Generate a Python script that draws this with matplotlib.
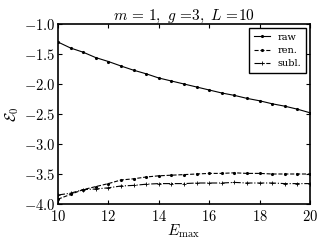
import numpy as np
import matplotlib
matplotlib.use('Agg')
import matplotlib.pyplot as plt

plt.rcParams['mathtext.fontset'] = 'cm'
plt.rcParams['font.family'] = 'serif'
plt.rcParams['font.serif'] = ['DejaVu Serif']
plt.rcParams['axes.formatter.use_mathtext'] = True

# E_max grid
e_max = [10, 10.5, 11, 11.5, 12, 12.5, 13, 13.5, 14, 14.5, 15,
         15.5, 16, 16.5, 17, 17.5, 18, 18.5, 19, 19.5, 20]

raw = [-1.30, -1.40, -1.47, -1.56, -1.625, -1.70, -1.77, -1.83, -1.90, -1.95, -2.00,
       -2.05, -2.10, -2.15, -2.19, -2.24, -2.28, -2.33, -2.37, -2.42, -2.48]
ren = [-3.92, -3.84, -3.76, -3.71, -3.66, -3.60, -3.58, -3.55, -3.53, -3.52, -3.51,
       -3.50, -3.49, -3.49, -3.48, -3.49, -3.49, -3.50, -3.50, -3.50, -3.50]
subl = [-3.85, -3.82, -3.76, -3.75, -3.73, -3.70, -3.69, -3.67, -3.66, -3.66, -3.66,
        -3.65, -3.65, -3.65, -3.64, -3.65, -3.65, -3.65, -3.66, -3.66, -3.66]

fig = plt.figure(figsize=(3.2, 2.4), dpi=100)
ax = fig.add_axes([0.181, 0.15, 0.788, 0.75])

ax.plot(e_max, raw, '-', color='k', lw=0.8, marker='.', ms=2.5, label='raw')
ax.plot(e_max, ren, '--', color='k', lw=0.8, marker='.', ms=2.5, label='ren.')
ax.plot(e_max, subl, '-.', color='k', lw=0.8, marker='+', ms=3, mew=0.6, label='subl.')

ax.set_xlim(10, 20)
ax.set_ylim(-4.0, -1.0)
ax.set_xticks([10, 12, 14, 16, 18, 20])
ax.set_yticks([-4.0, -3.5, -3.0, -2.5, -2.0, -1.5, -1.0])
ax.set_yticklabels(['$-4.0$', '$-3.5$', '$-3.0$', '$-2.5$', '$-2.0$', '$-1.5$', '$-1.0$'])
ax.set_xticklabels(['$10$', '$12$', '$14$', '$16$', '$18$', '$20$'])
ax.tick_params(direction='in', top=True, right=True, labelsize=10.5, length=3, width=0.8)
ax.tick_params(axis='y', pad=2)
ax.tick_params(axis='x', pad=3.5)
for s in ax.spines.values():
    s.set_linewidth(1.2)

ax.set_xlabel(r'$E_{\rm max}$', fontsize=11, labelpad=-1)
ax.set_ylabel(r'$\mathcal{E}_0$', fontsize=11, labelpad=2)
ax.set_title(r'$m\,=\,1,\ g\,=\!3,\ L\,=\!10$', fontsize=11, pad=3)

leg = ax.legend(loc='upper right', fontsize=7, fancybox=False, edgecolor='k',
                framealpha=1, handlelength=1.6, borderpad=0.5, labelspacing=0.45,
                borderaxespad=0.4)
leg.get_frame().set_linewidth(1.0)

fig.savefig('out.png', dpi=100)
